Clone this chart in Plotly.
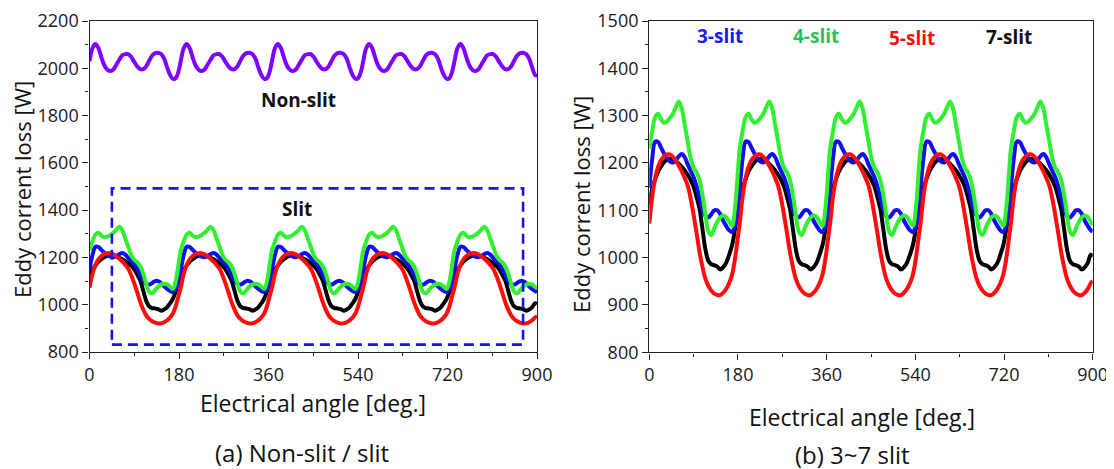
import plotly.graph_objects as go

# Electrical angle samples [deg.]
angle = [
    0, 6, 12, 18, 24, 30, 36, 42, 48, 54, 60, 66, 72, 78, 84, 90, 96, 102, 108, 114, 120, 126, 132, 138, 144, 150, 156, 162, 168, 174, 180,
    183.5, 189.5, 195.5, 201.5, 207.5, 213.5, 219.5, 225.5, 231.5, 237.5, 243.5, 249.5, 255.5, 261.5, 267.5, 273.5, 279.5, 285.5, 291.5, 297.5, 303.5, 309.5, 315.5, 321.5, 327.5, 333.5, 339.5, 345.5, 351.5, 357.5, 363.5,
    367, 373, 379, 385, 391, 397, 403, 409, 415, 421, 427, 433, 439, 445, 451, 457, 463, 469, 475, 481, 487, 493, 499, 505, 511, 517, 523, 529, 535, 541, 547,
    550.5, 556.5, 562.5, 568.5, 574.5, 580.5, 586.5, 592.5, 598.5, 604.5, 610.5, 616.5, 622.5, 628.5, 634.5, 640.5, 646.5, 652.5, 658.5, 664.5, 670.5, 676.5, 682.5, 688.5, 694.5, 700.5, 706.5, 712.5, 718.5, 724.5, 730.5,
    734, 740, 746, 752, 758, 764, 770, 776, 782, 788, 794, 800, 806, 812, 818, 824, 830, 836, 842, 848, 854, 860, 866, 872, 878, 884, 890, 896, 900,
]

non_slit = [
    2030, 2085, 2103, 2085, 2046, 2012, 1994, 1988, 1995, 2015, 2036, 2055, 2060, 2060, 2048, 2027, 2008, 1996, 1996, 2008, 2032, 2054, 2064, 2066, 2060, 2042, 2005, 1972, 1955, 1960, 1995,
    2030, 2085, 2103, 2085, 2046, 2012, 1994, 1988, 1995, 2015, 2036, 2055, 2060, 2060, 2048, 2027, 2008, 1996, 1996, 2008, 2032, 2054, 2064, 2066, 2060, 2042, 2005, 1972, 1955, 1960, 1995,
    2030, 2085, 2103, 2085, 2046, 2012, 1994, 1988, 1995, 2015, 2036, 2055, 2060, 2060, 2048, 2027, 2008, 1996, 1996, 2008, 2032, 2054, 2064, 2066, 2060, 2042, 2005, 1972, 1955, 1960, 1995,
    2030, 2085, 2103, 2085, 2046, 2012, 1994, 1988, 1995, 2015, 2036, 2055, 2060, 2060, 2048, 2027, 2008, 1996, 1996, 2008, 2032, 2054, 2064, 2066, 2060, 2042, 2005, 1972, 1955, 1960, 1995,
    2030, 2085, 2103, 2085, 2046, 2012, 1994, 1988, 1995, 2015, 2036, 2055, 2060, 2060, 2048, 2027, 2008, 1996, 1996, 2008, 2032, 2054, 2064, 2066, 2060, 2042, 2005, 1972, 1968,
]

slit3 = [
    1147, 1210, 1245, 1244, 1232, 1220, 1210, 1203, 1201, 1206, 1214, 1219, 1212, 1197, 1183, 1170, 1151, 1126, 1102, 1088, 1085, 1092, 1100, 1100, 1092, 1078, 1067, 1058, 1054, 1068, 1115,
    1147, 1210, 1245, 1244, 1232, 1220, 1210, 1203, 1201, 1206, 1214, 1219, 1212, 1197, 1183, 1170, 1151, 1126, 1102, 1088, 1085, 1092, 1100, 1100, 1092, 1078, 1067, 1058, 1054, 1068, 1115,
    1147, 1210, 1245, 1244, 1232, 1220, 1210, 1203, 1201, 1206, 1214, 1219, 1212, 1197, 1183, 1170, 1151, 1126, 1102, 1088, 1085, 1092, 1100, 1100, 1092, 1078, 1067, 1058, 1054, 1068, 1115,
    1147, 1210, 1245, 1244, 1232, 1220, 1210, 1203, 1201, 1206, 1214, 1219, 1212, 1197, 1183, 1170, 1151, 1126, 1102, 1088, 1085, 1092, 1100, 1100, 1092, 1078, 1067, 1058, 1054, 1068, 1115,
    1147, 1210, 1245, 1244, 1232, 1220, 1210, 1203, 1201, 1206, 1214, 1219, 1212, 1197, 1183, 1170, 1151, 1126, 1102, 1088, 1085, 1092, 1100, 1100, 1092, 1078, 1067, 1058, 1055,
]

slit4 = [
    1230, 1268, 1297, 1304, 1292, 1285, 1288, 1295, 1304, 1318, 1330, 1315, 1280, 1245, 1210, 1190, 1180, 1164, 1132, 1090, 1055, 1048, 1062, 1076, 1085, 1089, 1086, 1076, 1067, 1105, 1185,
    1230, 1268, 1297, 1304, 1292, 1285, 1288, 1295, 1304, 1318, 1330, 1315, 1280, 1245, 1210, 1190, 1180, 1164, 1132, 1090, 1055, 1048, 1062, 1076, 1085, 1089, 1086, 1076, 1067, 1105, 1185,
    1230, 1268, 1297, 1304, 1292, 1285, 1288, 1295, 1304, 1318, 1330, 1315, 1280, 1245, 1210, 1190, 1180, 1164, 1132, 1090, 1055, 1048, 1062, 1076, 1085, 1089, 1086, 1076, 1067, 1105, 1185,
    1230, 1268, 1297, 1304, 1292, 1285, 1288, 1295, 1304, 1318, 1330, 1315, 1280, 1245, 1210, 1190, 1180, 1164, 1132, 1090, 1055, 1048, 1062, 1076, 1085, 1089, 1086, 1076, 1067, 1105, 1185,
    1230, 1268, 1297, 1304, 1292, 1285, 1288, 1295, 1304, 1318, 1330, 1315, 1280, 1245, 1210, 1190, 1180, 1164, 1132, 1090, 1055, 1048, 1062, 1076, 1085, 1089, 1086, 1076, 1068,
]

slit5 = [
    1072, 1130, 1168, 1192, 1206, 1214, 1218, 1218, 1213, 1205, 1194, 1182, 1168, 1152, 1125, 1090, 1052, 1012, 980, 955, 940, 930, 924, 921, 921, 926, 934, 946, 964, 998, 1045,
    1072, 1130, 1168, 1192, 1206, 1214, 1218, 1218, 1213, 1205, 1194, 1182, 1168, 1152, 1125, 1090, 1052, 1012, 980, 955, 940, 930, 924, 921, 921, 926, 934, 946, 964, 998, 1045,
    1072, 1130, 1168, 1192, 1206, 1214, 1218, 1218, 1213, 1205, 1194, 1182, 1168, 1152, 1125, 1090, 1052, 1012, 980, 955, 940, 930, 924, 921, 921, 926, 934, 946, 964, 998, 1045,
    1072, 1130, 1168, 1192, 1206, 1214, 1218, 1218, 1213, 1205, 1194, 1182, 1168, 1152, 1125, 1090, 1052, 1012, 980, 955, 940, 930, 924, 921, 921, 926, 934, 946, 964, 998, 1045,
    1072, 1130, 1168, 1192, 1206, 1214, 1218, 1218, 1213, 1205, 1194, 1182, 1168, 1152, 1125, 1090, 1052, 1012, 980, 955, 940, 930, 924, 921, 921, 926, 934, 946, 951,
]

slit7 = [
    1112, 1146, 1166, 1182, 1193, 1202, 1207, 1209, 1207, 1204, 1198, 1192, 1184, 1175, 1164, 1150, 1128, 1103, 1060, 1017, 993, 986, 984, 981, 975, 980, 989, 1006, 1026, 1060, 1098,
    1112, 1146, 1166, 1182, 1193, 1202, 1207, 1209, 1207, 1204, 1198, 1192, 1184, 1175, 1164, 1150, 1128, 1103, 1060, 1017, 993, 986, 984, 981, 975, 980, 989, 1006, 1026, 1060, 1098,
    1112, 1146, 1166, 1182, 1193, 1202, 1207, 1209, 1207, 1204, 1198, 1192, 1184, 1175, 1164, 1150, 1128, 1103, 1060, 1017, 993, 986, 984, 981, 975, 980, 989, 1006, 1026, 1060, 1098,
    1112, 1146, 1166, 1182, 1193, 1202, 1207, 1209, 1207, 1204, 1198, 1192, 1184, 1175, 1164, 1150, 1128, 1103, 1060, 1017, 993, 986, 984, 981, 975, 980, 989, 1006, 1026, 1060, 1098,
    1112, 1146, 1166, 1182, 1193, 1202, 1207, 1209, 1207, 1204, 1198, 1192, 1184, 1175, 1164, 1150, 1128, 1103, 1060, 1017, 993, 986, 984, 981, 975, 980, 989, 1006, 1002,
]

x_ticks = [0, 180, 360, 540, 720, 900]
left_y_ticks = [800, 1000, 1200, 1400, 1600, 1800, 2000, 2200]
right_y_ticks = [800, 900, 1000, 1100, 1200, 1300, 1400, 1500]
slit_box = [45, 872, 831, 1492]  # angle from/to, loss from/to

W, H = 1114, 469
OFF = 8  # page body margin offset in the browser
FONT = "Open Sans"
C_PURPLE = "#8000ff"
C_BLUE = "#1010ee"
C_GREEN = "#30f030"
C_RED = "#ff0d0d"
C_BLACK = "#000000"


def px_x(v):
    return (v - OFF) / W


def px_y(v):
    return 1 - (v - OFF) / H


fig = go.Figure()

slit_series = [
    ("7-slit", slit7, C_BLACK),
    ("3-slit", slit3, C_BLUE),
    ("4-slit", slit4, C_GREEN),
    ("5-slit", slit5, C_RED),
]

for xa, ya in (("x", "y"), ("x2", "y2")):
    for name, vals, col in slit_series:
        fig.add_trace(go.Scatter(
            x=angle, y=vals, mode="lines", name=name, xaxis=xa, yaxis=ya,
            line=dict(color=col, width=4, shape="spline", smoothing=1.0),
            showlegend=False,
        ))

fig.add_trace(go.Scatter(
    x=angle, y=non_slit, mode="lines", name="Non-slit", xaxis="x", yaxis="y",
    line=dict(color=C_PURPLE, width=4, shape="spline", smoothing=1.0),
    showlegend=False,
))

tickfont = dict(family=FONT, size=18, color="#1a1a1a")
axis_common = dict(
    showline=True, linecolor="#222222", linewidth=1.4, mirror=True,
    ticks="outside", ticklen=6, tickwidth=1.3, tickcolor="#222222",
    showgrid=False, zeroline=False, tickfont=tickfont, ticklabeloverflow="allow",
)

fig.update_layout(
    width=W, height=H,
    margin=dict(l=0, r=0, t=0, b=0, autoexpand=False),
    paper_bgcolor="white", plot_bgcolor="white",
    xaxis=dict(domain=[px_x(89.5), px_x(537)], range=[0, 900], tickvals=x_ticks,
               minor=dict(dtick=90, tick0=0, ticks="outside", ticklen=3, tickcolor="#222222"),
               anchor="y", **axis_common),
    yaxis=dict(domain=[px_y(352), px_y(21)], range=[800, 2200], tickvals=left_y_ticks,
               minor=dict(dtick=100, tick0=800, ticks="outside", ticklen=3, tickcolor="#222222"),
               anchor="x", **axis_common),
    xaxis2=dict(domain=[px_x(649.3), px_x(1092.7)], range=[0, 900], tickvals=x_ticks,
                minor=dict(dtick=90, tick0=0, ticks="outside", ticklen=3, tickcolor="#222222"),
                anchor="y2", **axis_common),
    yaxis2=dict(domain=[px_y(352.3), px_y(21)], range=[800, 1500], tickvals=right_y_ticks,
                minor=dict(dtick=50, tick0=800, ticks="outside", ticklen=3, tickcolor="#222222"),
                anchor="x2", **axis_common),
)

fig.add_shape(type="rect", xref="x", yref="y",
              x0=slit_box[0], x1=slit_box[1], y0=slit_box[2], y1=slit_box[3],
              line=dict(color="#1515f0", width=2.6, dash="10px,6px"), layer="above")

ann = []
# axis titles and captions (page pixel positions)
ann.append(dict(text="Eddy corrent loss [W]", x=22, y=190, textangle=-90, size=22))
ann.append(dict(text="Eddy corrent loss [W]", x=581, y=205, textangle=-90, size=22))
ann.append(dict(text="Electrical angle [deg.]", x=312.5, y=403, size=23))
ann.append(dict(text="Electrical angle [deg.]", x=862, y=417, size=23))
ann.append(dict(text="(a) Non-slit / slit", x=302, y=452, size=24))
ann.append(dict(text="(b) 3~7 slit", x=852, y=454, size=24))
for a in ann:
    size = a.pop("size")
    a["x"] = px_x(a["x"])
    a["y"] = px_y(a["y"])
    fig.add_annotation(xref="paper", yref="paper", showarrow=False,
                       xanchor="center", yanchor="middle",
                       font=dict(family=FONT, size=size, color="#111111"), **a)

bold = lambda c: dict(family=FONT, size=19, color=c, weight="bold")
fig.add_annotation(xref="x", yref="y", x=420, y=1867, text="<b>Non-slit</b>", showarrow=False, font=bold("#111111"))
fig.add_annotation(xref="x", yref="y", x=417, y=1404, text="<b>Slit</b>", showarrow=False, font=bold("#111111"))
fig.add_annotation(xref="x2", yref="y2", x=144, y=1468, text="<b>3-slit</b>", showarrow=False, font=bold("#1a1aee"))
fig.add_annotation(xref="x2", yref="y2", x=339, y=1468, text="<b>4-slit</b>", showarrow=False, font=bold("#2fbf5f"))
fig.add_annotation(xref="x2", yref="y2", x=534, y=1465, text="<b>5-slit</b>", showarrow=False, font=bold("#ee1111"))
fig.add_annotation(xref="x2", yref="y2", x=730, y=1466, text="<b>7-slit</b>", showarrow=False, font=bold("#111111"))

fig.write_html("out.html")
